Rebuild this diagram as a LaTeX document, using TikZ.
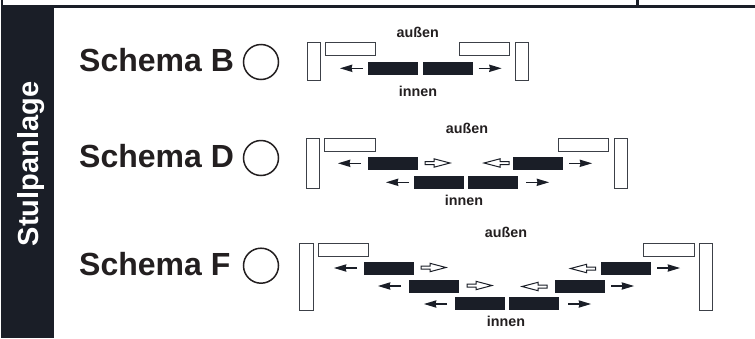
\documentclass[tikz,border=0pt]{standalone}
\usepackage{fontspec}
\setmainfont{Liberation Sans}
\definecolor{ink}{HTML}{1A1E27}
\definecolor{txt}{HTML}{231F20}
\tikzset{
  leaf/.style={draw=ink!85!white,line width=0.9pt,fill=white},
  sash/.style={fill=ink,draw=none},
  title/.style={anchor=base west,inner sep=0pt,font=\bfseries\fontsize{32}{32}\selectfont,text=txt},
  side/.style={font=\bfseries\fontsize{14.3}{14.3}\selectfont,text=txt,inner sep=0pt,anchor=base},
  knob/.style={circle,draw=txt,line width=1.5pt,minimum size=35pt,inner sep=0pt},
}
% #1 x at tail, #2 y, #3 direction (+1 right, -1 left)
\newcommand{\solidarrow}[3]{%
  \begin{scope}[shift={(#1,#2)},xscale=#3]
    \draw[ink,line width=1.2pt] (0,0) -- (12,0);
    \fill[ink] (10.5,-3.8) -- (23,0) -- (10.5,3.8) -- (11.5,0) -- cycle;
  \end{scope}}
\newcommand{\openarrow}[3]{%
  \begin{scope}[shift={(#1,#2)},xscale=#3]
    \draw[ink,line width=1pt,fill=white,line join=miter]
      (0,-1.5) -- (9,-1.5) -- (9,-4.2) -- (25,0) -- (9,4.2) -- (9,1.5) -- (0,1.5) -- cycle;
  \end{scope}}
\newcommand{\rect}[5]{\path[#1] (#2,#3) rectangle (#4,#5);}
\begin{document}
\begin{tikzpicture}[x=1pt,y=-1pt]
\useasboundingbox (0,0) rectangle (755,338);
\fill[white] (0,0) rectangle (755,338);
% frame
\fill[ink] (1,5) rectangle (755,7.6);
\fill[ink] (1,0) rectangle (2.6,5);
\fill[ink] (635.8,0) rectangle (639,5);
\fill[ink] (1,5) rectangle (54,338);
\node[rotate=90,anchor=base,inner sep=0pt,text=white,font=\bfseries\fontsize{29}{29}\selectfont] (stulp) at (38,164) {Stulpanlage};
% Schema B
\node[title] (tB) at (79,71.5) {Schema B};
\node[knob] (kB) at (261,62) {};
\rect{leaf}{307}{42}{320.3}{80}
\rect{leaf}{325.3}{42.3}{375.6}{55.3}
\rect{leaf}{459.3}{42.3}{509.6}{55.3}
\rect{leaf}{515.3}{42}{528.6}{80}
\rect{sash}{368}{62}{418}{75}
\rect{sash}{423}{62}{473}{75}
\solidarrow{363}{68.3}{-1}
\solidarrow{478.5}{68.3}{1}
\node[side] (aB) at (417.7,37) {außen};
\node[side] (iB) at (418,96) {innen};
% Schema D
\node[title] (tD) at (79,167.5) {Schema D};
\node[knob] (kD) at (261,158) {};
\rect{leaf}{306.3}{138.3}{319.6}{188}
\rect{leaf}{324.3}{138.3}{375}{151.3}
\rect{leaf}{558.3}{138.3}{608.6}{151.3}
\rect{leaf}{614.3}{138.3}{627.6}{188}
\rect{sash}{368}{157}{418}{170}
\rect{sash}{513}{157}{563}{170}
\rect{sash}{414}{176}{464}{189}
\rect{sash}{468}{176}{518}{189}
\solidarrow{361}{163.3}{-1}
\openarrow{425}{163}{1}
\openarrow{509}{163}{-1}
\solidarrow{569}{163.3}{1}
\solidarrow{409}{182.3}{-1}
\solidarrow{526}{182.3}{1}
\node[side] (aD) at (467,133) {außen};
\node[side] (iD) at (464,205) {innen};
% Schema F
\node[title] (tF) at (79,275) {Schema F};
\node[knob] (kF) at (261,265.7) {};
\rect{leaf}{299.6}{243}{313}{310}
\rect{leaf}{318}{243}{368.6}{256}
\rect{leaf}{643.6}{243}{694}{256}
\rect{leaf}{699.6}{243}{712.6}{310}
\rect{sash}{364}{262}{414}{275}
\rect{sash}{601}{262}{651}{275}
\rect{sash}{409}{280}{459}{293}
\rect{sash}{555}{280}{605}{293}
\rect{sash}{455}{297}{505}{310}
\rect{sash}{509}{297}{559}{310}
\solidarrow{357}{268}{-1}
\openarrow{421}{267.5}{1}
\openarrow{595.5}{268.5}{-1}
\solidarrow{657}{268}{1}
\solidarrow{401}{286}{-1}
\openarrow{467}{285.5}{1}
\openarrow{547}{286.5}{-1}
\solidarrow{611}{286}{1}
\solidarrow{447}{304}{-1}
\solidarrow{568}{304}{1}
\node[side] (aF) at (506,237) {außen};
\node[side] (iF) at (506,326) {innen};
\end{tikzpicture}
\end{document}
